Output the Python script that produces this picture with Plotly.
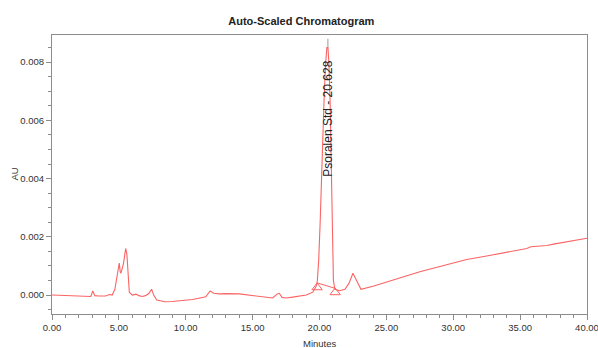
import plotly.graph_objects as go

# Chromatogram trace (minutes, AU)
time_min = [0.0, 0.5, 1.0, 1.5, 2.0, 2.5, 2.9, 3.05, 3.2, 3.5, 4.0, 4.3, 4.5, 4.7, 4.9, 5.03,
            5.1, 5.16, 5.35, 5.51, 5.6, 5.7, 5.78, 6.0, 6.28, 6.5, 6.75, 7.0, 7.25, 7.45,
            7.6, 7.83, 8.45, 9.0, 9.5, 10.0, 10.5, 11.07, 11.5, 11.82, 12.1, 12.5, 13.0,
            14.0, 15.0, 15.5, 16.0, 16.5, 16.85, 17.0, 17.2, 17.5, 18.0, 18.5, 19.0, 19.5,
            19.75, 19.84, 19.94, 20.05, 20.15, 20.25, 20.34, 20.45, 20.55, 20.63, 20.7,
            20.79, 20.85, 20.9, 20.94, 20.98, 21.04, 21.15, 21.5, 21.9, 22.2, 22.5, 22.8,
            23.1, 24.0, 25.0, 26.0, 27.5, 29.0, 30.0, 31.0, 32.5, 34.0, 35.0, 35.5, 35.8,
            37.0, 37.5, 39.0, 40.0]
absorbance = [0.0, -0.00001, -0.00002, -0.00002, -0.00003, -0.00004, -0.00005, 0.00014, -0.00002,
              -0.00003, -0.00003, 0.00002, 0.0, 0.0002, 0.0007, 0.0011,
              0.0008, 0.00075, 0.0011, 0.0016, 0.0014, 0.0006, 0.0001, 0.0, 0.00003, -0.00002,
              -0.00005, -0.00002, 0.00006, 0.0002,
              0.0, -0.00017, -0.00023, -0.00022, -0.0002, -0.00018, -0.00015, -0.0001, -0.00006,
              0.00014, 0.00006, 0.00004, 0.00005,
              0.00004, -0.00001, -0.00004, -0.00008, -0.0001, 0.00004, 0.00006, -0.00008,
              -0.0001, -0.00007, -0.00003, 0.0, 0.0001,
              0.0003, 0.0005, 0.0012, 0.0025, 0.0042, 0.0056, 0.0067, 0.0079, 0.0085, 0.0085,
              0.0080, 0.0067, 0.0052, 0.0040, 0.0024, 0.0012, 0.0005, 0.0002, 0.00015, 0.0002,
              0.0004, 0.00075, 0.0005, 0.0002, 0.0003, 0.00045, 0.0006, 0.0008, 0.00098,
              0.0011, 0.00122, 0.00134, 0.00147, 0.00155, 0.0016, 0.00166, 0.0017, 0.00175,
              0.00187, 0.00195]

# Integration baseline (peak start / end)
baseline_time = [19.82, 21.17]
baseline_au = [0.00042, 0.00023]
marker_au = [0.00026, 0.00009]

# Peak label
peak_rt = 20.628
peak_label = "Psoralen Std - 20.628"
peak_apex = 0.0085
peak_mark_top = 0.0088

x_ticks = [0, 5, 10, 15, 20, 25, 30, 35, 40]
x_tick_labels = ["0.00", "5.00", "10.00", "15.00", "20.00", "25.00", "30.00", "35.00", "40.00"]
y_ticks = [0.0, 0.002, 0.004, 0.006, 0.008]
y_tick_labels = ["0.000", "0.002", "0.004", "0.006", "0.008"]

RED = "rgb(250,100,100)"
FONT = "Liberation Sans, Arial, sans-serif"

fig = go.Figure()
fig.add_trace(go.Scatter(x=time_min, y=absorbance, mode="lines",
                         line=dict(color=RED, width=1.1), hoverinfo="skip"))
fig.add_trace(go.Scatter(x=baseline_time, y=baseline_au, mode="lines",
                         line=dict(color=RED, width=1), hoverinfo="skip"))
fig.add_trace(go.Scatter(x=baseline_time, y=marker_au, mode="markers",
                         marker=dict(symbol="triangle-up-open", size=9, color=RED,
                                     line=dict(width=1, color=RED)), hoverinfo="skip"))
fig.add_trace(go.Scatter(x=[peak_rt, peak_rt], y=[peak_apex, peak_mark_top], mode="lines",
                         line=dict(color="#999999", width=1), hoverinfo="skip"))

fig.add_annotation(x=peak_rt, y=0.00605, text=peak_label, textangle=-90, showarrow=False,
                   font=dict(family=FONT, size=12, color="#222222"))
fig.add_annotation(xref="paper", yref="paper", x=0.5, y=-0.104, text="Minutes",
                   showarrow=False, font=dict(family=FONT, size=9.5, color="#333333"),
                   yanchor="middle")
fig.add_annotation(xref="paper", yref="paper", x=-0.071, y=0.5, text="AU", textangle=-90,
                   showarrow=False, font=dict(family=FONT, size=9.5, color="#333333"),
                   xanchor="center", yanchor="middle")

axis_common = dict(showgrid=False, zeroline=False, showline=True, linecolor="#8c8c8c",
                   linewidth=1, mirror=True, ticks="outside", ticklen=5, tickwidth=1,
                   tickcolor="#8c8c8c", automargin=False, ticklabeloverflow="allow",
                   tickfont=dict(family=FONT, size=9.5, color="#333333"))

fig.update_layout(
    width=598, height=348,
    margin=dict(l=52, r=11, t=35, b=34),
    paper_bgcolor="white", plot_bgcolor="white",
    showlegend=False,
    title=dict(text="<b>Auto-Scaled Chromatogram</b>", x=0.466, xref="paper",
               xanchor="center", y=1 - 21 / 348, yanchor="middle",
               font=dict(family=FONT, size=11, color="#222222")),
    xaxis=dict(range=[0, 40], tickvals=x_ticks, ticktext=x_tick_labels,
               minor=dict(dtick=1, ticklen=3, tickcolor="#8c8c8c", ticks="outside"),
               **axis_common),
    yaxis=dict(range=[-0.00065, 0.00893], tickvals=y_ticks, ticktext=y_tick_labels,
               minor=dict(dtick=0.0005, tick0=0, ticklen=3, tickcolor="#8c8c8c", ticks="outside"),
               **axis_common),
)

fig.write_html("out.html", config={"displayModeBar": False},
               post_script="document.body.style.margin='0';document.body.style.overflow='hidden';")
